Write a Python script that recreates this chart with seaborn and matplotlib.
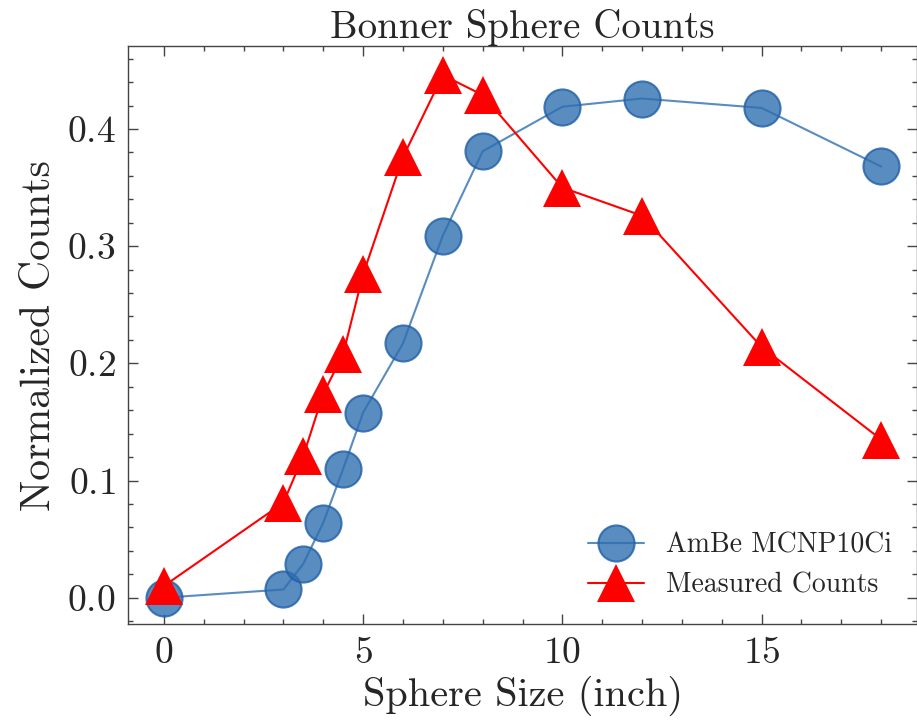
import matplotlib
matplotlib.use("Agg")
import matplotlib.pyplot as plt
import seaborn as sns
import pandas as pd
from matplotlib.ticker import AutoMinorLocator, MultipleLocator

sphere_size = [0, 3, 3.5, 4, 4.5, 5, 6, 7, 8, 10, 12, 15, 18]
ambe_mcnp = [0.0, 0.007, 0.029, 0.064, 0.110, 0.158, 0.217, 0.309, 0.381, 0.419, 0.426, 0.418, 0.368]
measured = [0.010, 0.081, 0.121, 0.174, 0.208, 0.276, 0.376, 0.446, 0.429, 0.350, 0.326, 0.214, 0.135]

sns.set_style("ticks")
plt.rcParams["font.family"] = ["cmr10", "DejaVu Serif"]
plt.rcParams["mathtext.fontset"] = "cm"
plt.rcParams["axes.formatter.use_mathtext"] = True
plt.rcParams["axes.unicode_minus"] = False

df = pd.DataFrame({"size": sphere_size, "ambe": ambe_mcnp, "meas": measured})

fig = plt.figure(figsize=(9.17, 7.23), dpi=100)
ax = fig.add_axes([0.1396, 0.137, 0.8604, 0.799])

sns.lineplot(data=df, x="size", y="ambe", ax=ax, color="#2f6fb0", alpha=0.8,
             marker="o", markersize=26, markeredgecolor="#1f5fa8",
             markeredgewidth=1.5, linewidth=1.5, label="AmBe MCNP10Ci")
sns.lineplot(data=df, x="size", y="meas", ax=ax, color="red",
             marker="^", markersize=28, markeredgewidth=0,
             linewidth=1.5, label="Measured Counts")

ax.set_xlim(-0.9, 18.9)
ax.set_ylim(-0.0224, 0.4706)
ax.xaxis.set_major_locator(MultipleLocator(5))
ax.yaxis.set_major_locator(MultipleLocator(0.1))
ax.xaxis.set_minor_locator(AutoMinorLocator(5))
ax.yaxis.set_minor_locator(AutoMinorLocator(5))
ax.tick_params(which="both", direction="in", top=True, right=True,
               width=1.0, color="#444444")
ax.tick_params(which="major", length=7, labelsize=27, pad=9)
ax.tick_params(which="minor", length=3.5)
for s in ax.spines.values():
    s.set_color("#444444")
    s.set_linewidth(1.0)

ax.set_xlabel("Sphere Size (inch)", fontsize=29)
ax.set_ylabel("Normalized Counts", fontsize=30, labelpad=6)
ax.set_title("Bonner Sphere Counts", fontsize=28, pad=5)

ax.legend(loc="lower right", frameon=False, fontsize=20,
          borderaxespad=0.5, handlelength=2.0, labelspacing=0.5)

fig.savefig("out.png", dpi=100)
